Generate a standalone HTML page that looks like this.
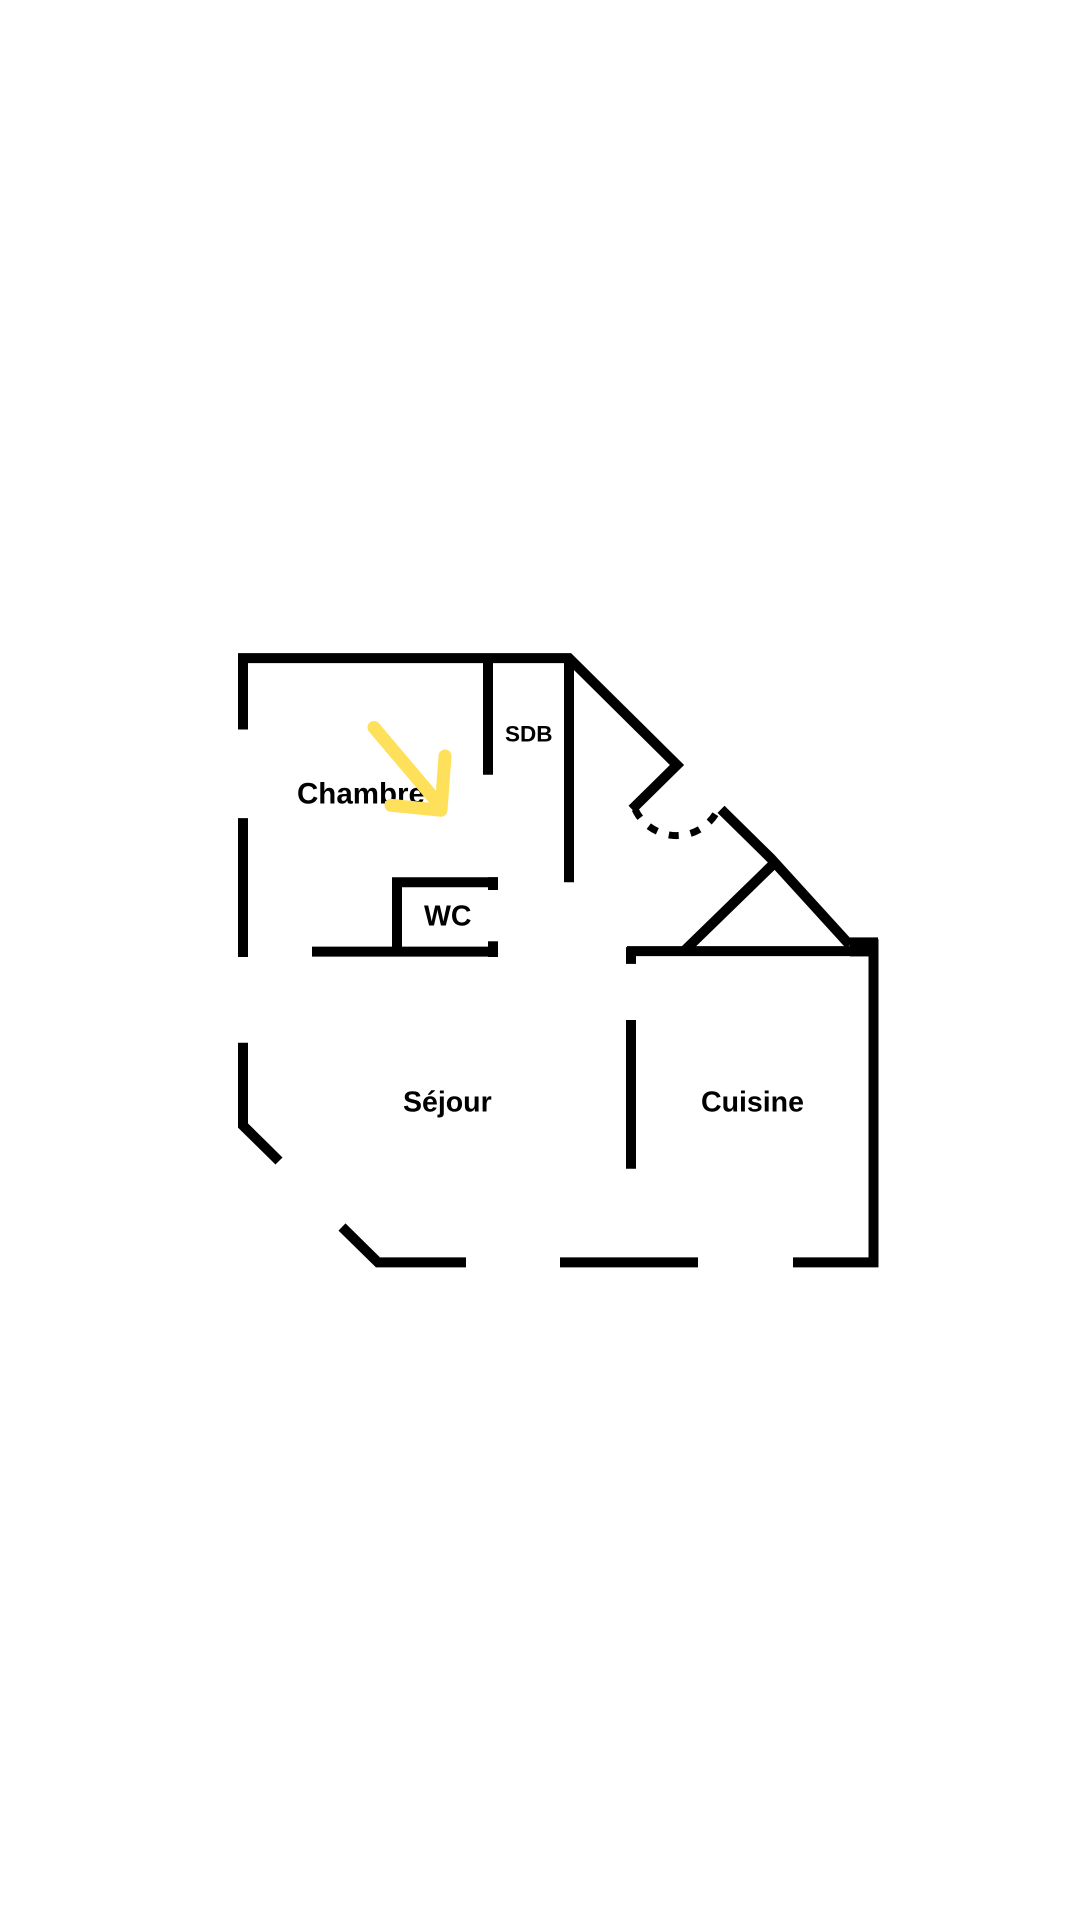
<!DOCTYPE html>
<html><head><meta charset="utf-8"><style>
html,body{margin:0;padding:0;background:#fff;}
svg{display:block;}
text{font-family:"Liberation Sans",sans-serif;font-weight:bold;fill:#000;}
</style></head><body>
<svg width="1080" height="1920" viewBox="0 0 1080 1920" xmlns="http://www.w3.org/2000/svg">
<g stroke="#000" stroke-width="10" fill="none" stroke-linejoin="miter" stroke-linecap="butt">
  <polyline points="243,729.5 243,658.1 569,658.1 677,765 632,809.3"/>
  <line x1="243" y1="818.1" x2="243" y2="957"/>
  <polyline points="243,1042.7 243,1125.5 279,1161"/>
  <polyline points="342,1227 378,1262.4 466,1262.4"/>
  <line x1="560" y1="1262.4" x2="698" y2="1262.4"/>
  <polyline points="793,1262.4 873.5,1262.4 873.5,939.3"/>
  <polyline points="721,809.3 771,858.5 850,945.2"/>
  <line x1="684" y1="951.1" x2="775" y2="862.5"/>
  <line x1="627" y1="951.1" x2="870" y2="951.1"/>
  <line x1="631" y1="947.2" x2="631" y2="963.9"/>
  <line x1="631" y1="1020" x2="631" y2="1168.8"/>
  <line x1="488" y1="658" x2="488" y2="774.8"/>
  <line x1="569" y1="658" x2="569" y2="882.2"/>
  <polyline points="397,951.6 397,882.2 498,882.2"/>
  <line x1="312" y1="951.6" x2="498" y2="951.6"/>
  <line x1="493" y1="877.2" x2="493" y2="890"/>
  <line x1="493" y1="941.3" x2="493" y2="957"/>
</g>
<rect x="850" y="937.4" width="28" height="19" fill="#000"/>
<path d="M635,809.3 A46,46 0 0 0 719,807.3" stroke="#000" stroke-width="7" fill="none" stroke-dasharray="10,12"/>
<text x="505" y="741.3" font-size="22.5">SDB</text>
<text x="297" y="803.4" font-size="29.5">Chambre</text>
<text x="424" y="925.3" font-size="28.5">WC</text>
<text x="403" y="1111.7" font-size="28.5">Séjour</text>
<text x="701" y="1111.7" font-size="28.5">Cuisine</text>
<g stroke="#FFE05A" stroke-width="13" stroke-linecap="round" stroke-linejoin="round" fill="none">
  <line x1="374" y1="727.5" x2="439" y2="804.3"/>
  <polyline points="445,756 441,810.3 391,805.3"/>
</g>
</svg>
</body></html>
